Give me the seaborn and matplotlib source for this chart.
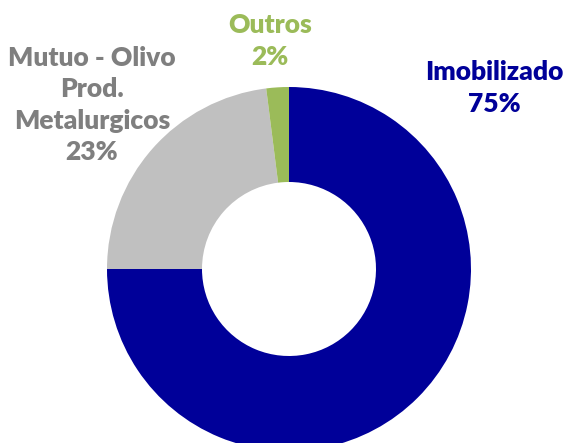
import matplotlib.pyplot as plt
import seaborn as sns

# Data
labels = ['Imobilizado', 'Mutuo - Olivo\nProd.\nMetalurgicos', 'Outros']
shares = [75, 23, 2]
colors = ['#000099', '#C0C0C0', '#9BBB59']
label_colors = ['#000099', '#7F7F7F', '#9BBB59']

sns.set_theme(style="white")
plt.rcParams['font.family'] = ['Lato', 'DejaVu Sans']

fig = plt.figure(figsize=(5.69, 4.43), dpi=100)
ax = fig.add_axes([0, 0, 1, 1])

# donut, center/radius in pixel units of the axes
cx, cy, r = 289, 443 - 269, 182
ax.pie(shares, colors=colors, startangle=90, counterclock=False,
       center=(cx, cy), radius=r, frame=True,
       wedgeprops=dict(width=95, edgecolor='none'))
ax.set_xlim(0, 569)
ax.set_ylim(0, 443)
ax.set_aspect('equal')
ax.axis('off')

# labels
label_pos = [(494, 443 - 88), (92, 443 - 105), (270, 443 - 41)]
for lab, pct, (x, y), c in zip(labels, shares, label_pos, label_colors):
    ax.text(x, y, f'{lab}\n{pct}%', ha='center', va='center', fontsize=19,
            fontweight='heavy', color=c, linespacing=1.37)

fig.savefig('out.png', dpi=100)
